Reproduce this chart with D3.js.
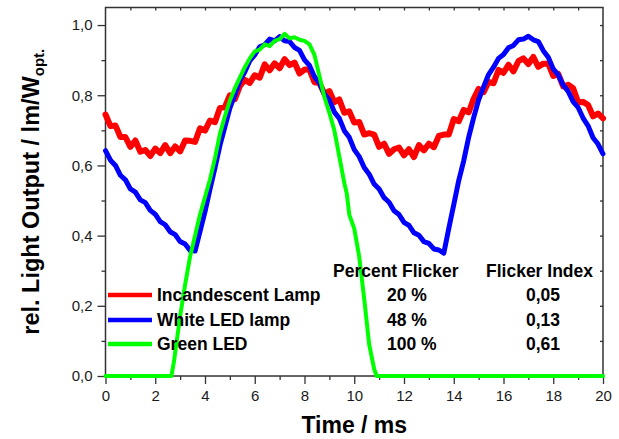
<!DOCTYPE html>
<html><head><meta charset="utf-8">
<script src="https://cdn.jsdelivr.net/npm/d3@7"></script>
<style>
html,body{margin:0;padding:0;background:#fff;}
svg text{font-family:"Liberation Sans",Arial,sans-serif;}
</style></head>
<body>
<svg id="chart" width="619" height="439"></svg>
<script>
// ---------- data ----------
const time = [0,0.2,0.4,0.6,0.8,1,1.2,1.4,1.6,1.8,2,2.2,2.4,2.6,2.8,3,3.2,3.4,3.6,3.8,
4,4.2,4.4,4.6,4.8,5,5.2,5.4,5.6,5.8,6,6.2,6.4,6.6,6.8,7,7.2,7.4,7.6,7.8,
8,8.2,8.4,8.6,8.8,9,9.2,9.4,9.6,9.8,10,10.2,10.4,10.6,10.8,11,11.2,11.4,11.6,11.8,
12,12.2,12.4,12.6,12.8,13,13.2,13.4,13.6,13.8,14,14.2,14.4,14.6,14.8,15,15.2,15.4,15.6,15.8,
16,16.2,16.4,16.6,16.8,17,17.2,17.4,17.6,17.8,18,18.2,18.4,18.6,18.8,19,19.2,19.4,19.6,19.8,20];

const incandescent = [
0.745,0.712,0.714,0.681,0.681,0.653,0.671,0.639,0.644,0.627,
0.648,0.635,0.658,0.635,0.654,0.640,0.671,0.670,0.667,0.706,
0.699,0.728,0.723,0.764,0.766,0.800,0.789,0.826,0.844,0.835,
0.857,0.850,0.888,0.871,0.891,0.877,0.903,0.886,0.893,0.862,
0.873,0.873,0.837,0.835,0.804,0.812,0.780,0.788,0.750,0.754,
0.722,0.724,0.688,0.692,0.688,0.653,0.662,0.633,0.646,0.651,
0.629,0.646,0.624,0.658,0.643,0.662,0.652,0.684,0.688,0.688,
0.732,0.726,0.758,0.751,0.790,0.818,0.809,0.838,0.834,0.872,
0.864,0.887,0.868,0.897,0.905,0.889,0.909,0.881,0.890,0.890,
0.855,0.861,0.825,0.830,0.820,0.780,0.781,0.772,0.740,0.748,
0.734];

const whiteLED = [
0.642,0.615,0.600,0.572,0.559,0.533,0.524,0.502,0.494,0.472,
0.461,0.440,0.431,0.411,0.403,0.383,0.376,0.358,0.356,0.412,
0.468,0.532,0.593,0.657,0.710,0.763,0.801,0.841,0.866,0.898,
0.915,0.938,0.944,0.960,0.955,0.967,0.955,0.953,0.936,0.928,
0.901,0.885,0.853,0.835,0.803,0.786,0.752,0.734,0.699,0.680,
0.645,0.625,0.594,0.575,0.547,0.533,0.508,0.495,0.471,0.460,
0.438,0.429,0.408,0.401,0.383,0.378,0.362,0.359,0.350,0.420,
0.488,0.557,0.613,0.680,0.736,0.787,0.824,0.859,0.880,0.905,
0.916,0.935,0.942,0.958,0.960,0.968,0.958,0.953,0.927,0.908,
0.875,0.858,0.829,0.811,0.782,0.765,0.735,0.713,0.679,0.661,
0.633];

const greenTime = [0,2.65,2.75,3.0,3.2,3.4,3.6,3.8,4.0,4.2,4.4,4.6,4.8,5.0,5.2,5.4,5.6,5.8,6.0,6.2,
6.4,6.6,6.8,7.0,7.2,7.4,7.6,7.8,8.0,8.2,8.4,8.6,8.8,9.0,9.2,9.4,9.6,9.7,9.75,9.8,
10.0,10.2,10.4,10.6,10.8,10.9,20];
const greenLED = [0,0,0.04,0.17,0.26,0.34,0.40,0.46,0.51,0.56,0.62,0.69,0.74,0.785,0.82,0.85,0.88,0.905,0.925,0.93,
0.945,0.94,0.955,0.96,0.975,0.962,0.965,0.958,0.955,0.945,0.915,0.855,0.795,0.75,0.70,0.625,0.55,0.52,0.49,0.46,
0.42,0.34,0.22,0.09,0.02,0,0];

const legendNames = ["Incandescent Lamp","White LED lamp","Green LED"];
const legendColors = ["#ff0000","#0000ff","#00ff00"];
const percentFlicker = ["20 %","48 %","100 %"];
const flickerIndex = ["0,05","0,13","0,61"];
const xTicks = [0,2,4,6,8,10,12,14,16,18,20];
const yTicks = [0,0.2,0.4,0.6,0.8,1.0];

// ---------- layout ----------
const svg = d3.select("#chart");
const L = 105.5, R = 603, T = 7.5, B = 376;
const x = d3.scaleLinear().domain([0,20]).range([L,R]);
const y = d3.scaleLinear().domain([0,1.05]).range([B,T]);
const axisColor = "#333";
const fmt = d => d3.format(".1f")(d).replace(".",",");

// frame
svg.append("rect").attr("x",L).attr("y",T).attr("width",R-L).attr("height",B-T)
  .attr("fill","none").attr("stroke",axisColor).attr("stroke-width",1.5);

function styleAxis(g){
  g.select(".domain").remove();
  g.selectAll(".tick line").attr("stroke",axisColor).attr("stroke-width",1.3);
  g.selectAll(".tick text").attr("fill","#1a1a1a").style("font-size","15px")
    .style("font-family","'Liberation Sans',Arial,sans-serif");
}
// bottom major
svg.append("g").attr("transform",`translate(0,${B})`)
  .call(d3.axisBottom(x).tickValues(xTicks).tickSize(8).tickPadding(6).tickFormat(d3.format("d")))
  .call(styleAxis);
// bottom minor
svg.append("g").attr("transform",`translate(0,${B})`)
  .call(d3.axisBottom(x).tickValues(d3.range(1,20,2)).tickSize(4).tickFormat(""))
  .call(styleAxis);
// left major
svg.append("g").attr("transform",`translate(${L},0)`)
  .call(d3.axisLeft(y).tickValues(yTicks).tickSize(8).tickPadding(5).tickFormat(fmt))
  .call(styleAxis);
// left minor
svg.append("g").attr("transform",`translate(${L},0)`)
  .call(d3.axisLeft(y).tickValues([0.1,0.3,0.5,0.7,0.9]).tickSize(4).tickFormat(""))
  .call(styleAxis);
// top inward
svg.append("g").attr("transform",`translate(0,${T})`)
  .call(d3.axisTop(x).tickValues(d3.range(1,20,1)).tickSize(-3).tickFormat(""))
  .call(styleAxis);
// right inward
svg.append("g").attr("transform",`translate(${R},0)`)
  .call(d3.axisRight(y).tickValues([0.1,0.2,0.3,0.4,0.5,0.6,0.7,0.8,0.9,1.0]).tickSize(-3).tickFormat(""))
  .call(styleAxis);

// lines
const line = d3.line().x(d=>x(d[0])).y(d=>y(d[1]));
function drawLine(ts, vs, color, w){
  svg.append("path").datum(ts.map((t,i)=>[t,vs[i]]))
    .attr("d",line).attr("fill","none").attr("stroke",color)
    .attr("stroke-width",w).attr("stroke-linejoin","round").attr("stroke-linecap","round");
}
drawLine(time, incandescent, legendColors[0], 6);
drawLine(time, whiteLED, legendColors[1], 5);
drawLine(greenTime, greenLED, legendColors[2], 4);

// legend
const lg = svg.append("g").style("font-weight","bold").style("font-size","17.5px").attr("fill","#000");
lg.append("text").attr("x",333).attr("y",277).text("Percent Flicker");
lg.append("text").attr("x",486).attr("y",277).text("Flicker Index");
const rowY = [301,325.5,350];
const lineY = [295,320,344];
legendNames.forEach((n,i)=>{
  svg.append("line").attr("x1",108).attr("x2",152).attr("y1",lineY[i]).attr("y2",lineY[i])
    .attr("stroke",legendColors[i]).attr("stroke-width",4.5);
  lg.append("text").attr("x",157).attr("y",rowY[i]).text(n);
  lg.append("text").attr("x",387).attr("y",rowY[i]).text(percentFlicker[i]);
  lg.append("text").attr("x",526).attr("y",rowY[i]).text(flickerIndex[i]);
});

// axis titles
svg.append("text").attr("x",(L+R)/2).attr("y",433).attr("text-anchor","middle")
  .style("font-weight","bold").style("font-size","23px").text("Time / ms");
const yt = svg.append("text").attr("transform",`translate(39,${(T+B)/2}) rotate(-90)`)
  .attr("text-anchor","middle").style("font-weight","bold").style("font-size","23.5px");
yt.append("tspan").text("rel. Light Output / lm/W");
yt.append("tspan").attr("dy",5).style("font-size","15px").text("opt.");
</script>
</body></html>
